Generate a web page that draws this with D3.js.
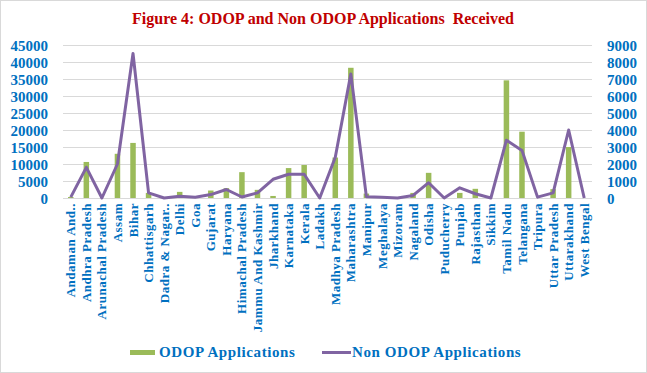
<!DOCTYPE html>
<html>
<head>
<meta charset="utf-8">
<script src="https://cdn.jsdelivr.net/npm/d3@7"></script>
<style>
  body { margin: 0; background: #fff; }
  svg { display: block; }
  text { font-family: "Liberation Serif", "Times New Roman", serif; font-weight: bold; }
</style>
</head>
<body>
<script>
// states as they appear on the x axis
const states = ['Andaman And..', 'Andhra Pradesh', 'Arunachal Pradesh', 'Assam', 'Bihar',
  'Chhattisgarh', 'Dadra & Nagar..', 'Delhi', 'Goa', 'Gujarat', 'Haryana', 'Himachal Pradesh',
  'Jammu And Kashmir', 'Jharkhand', 'Karnataka', 'Kerala', 'Ladakh', 'Madhya Pradesh',
  'Maharashtra', 'Manipur', 'Meghalaya', 'Mizoram', 'Nagaland', 'Odisha', 'Puducherry',
  'Punjab', 'Rajasthan', 'Sikkim', 'Tamil Nadu', 'Telangana', 'Tripura', 'Uttar Pradesh',
  'Uttarakhand', 'West Bengal']

// ODOP applications (left axis)
const odop = [300, 10600, 0, 13000, 16200, 1500, 0, 1800, 0, 2200, 2900, 7600,
  2400, 600, 8800, 9700, 0, 11900, 38300, 1300, 0, 0, 1500, 7400, 0,
  1500, 2700, 0, 34600, 19500, 0, 2600, 15000, 0]

// Non ODOP applications (right axis)
const nonOdop = [50, 1800, 0, 2000, 8500, 300, 0, 100, 50, 200, 500, 60,
  300, 1100, 1400, 1400, 0, 2400, 7300, 80, 50, 0, 150, 900, 0,
  600, 250, 0, 3400, 2800, 50, 300, 4000, 0]

const leftTicks = d3.range(0, 45001, 5000)
const rightTicks = d3.range(0, 9001, 1000)

const W = 647
const H = 373
const plot = { left: 63, right: 592, top: 45, bottom: 198 }
const blue = '#0070c0'
const green = '#9bbb59'
const purple = '#8064a2'

const svg = d3.select('body').append('svg')
  .attr('width', W)
  .attr('height', H)

// outer frame
svg.append('rect')
  .attr('x', 0.5).attr('y', 0.5)
  .attr('width', W - 1).attr('height', H - 1)
  .attr('fill', '#fff')
  .attr('stroke', '#d9d9d9')

svg.append('text')
  .attr('x', 323)
  .attr('y', 24)
  .attr('text-anchor', 'middle')
  .attr('fill', '#c00000')
  .style('font-size', '16px')
  .style('white-space', 'pre')
  .text('Figure 4: ODOP and Non ODOP Applications  Received')

// scales
const x = d3.scaleBand()
  .domain(states)
  .range([plot.left, plot.right])

const yLeft = d3.scaleLinear()
  .domain([0, 45000])
  .range([plot.bottom, plot.top])

const yRight = d3.scaleLinear()
  .domain([0, 9000])
  .range([plot.bottom, plot.top])

// gridlines
svg.append('g')
  .selectAll('line')
  .data(leftTicks)
  .enter()
  .append('line')
  .attr('x1', plot.left)
  .attr('x2', plot.right)
  .attr('y1', d => Math.round(yLeft(d)) + 0.5)
  .attr('y2', d => Math.round(yLeft(d)) + 0.5)
  .attr('stroke', '#d9d9d9')

// left axis
const leftAxis = svg.append('g')
  .attr('transform', `translate(${plot.left - 12},0)`)
  .call(d3.axisLeft(yLeft).tickValues(leftTicks).tickSize(0).tickFormat(d3.format('d')))
leftAxis.select('.domain').remove()
leftAxis.selectAll('text')
  .attr('fill', blue)
  .attr('dy', '0.35em')
  .style('font-size', '15px')
  .style('font-family', '"Liberation Serif", serif')
  .style('font-weight', 'bold')

// right axis
const rightAxis = svg.append('g')
  .attr('transform', `translate(${plot.right + 12},0)`)
  .call(d3.axisRight(yRight).tickValues(rightTicks).tickSize(0).tickFormat(d3.format('d')))
rightAxis.select('.domain').remove()
rightAxis.selectAll('text')
  .attr('fill', blue)
  .attr('dy', '0.35em')
  .style('font-size', '15px')
  .style('font-family', '"Liberation Serif", serif')
  .style('font-weight', 'bold')

// category labels
const bottomAxis = svg.append('g')
  .attr('transform', `translate(0,${plot.bottom})`)
  .call(d3.axisBottom(x).tickSize(0))
bottomAxis.select('.domain').remove()
bottomAxis.selectAll('text')
  .attr('fill', blue)
  .attr('transform', 'rotate(-90)')
  .attr('x', -5)
  .attr('y', 0)
  .attr('dy', '0.35em')
  .attr('text-anchor', 'end')
  .style('font-size', '13px')
  .style('letter-spacing', '0.5px')
  .style('font-family', '"Liberation Serif", serif')
  .style('font-weight', 'bold')

// bars
const barW = 5.5
svg.append('g')
  .selectAll('rect')
  .data(odop)
  .enter()
  .append('rect')
  .attr('x', (d, i) => x(states[i]) + x.bandwidth() / 2 - barW / 2)
  .attr('y', d => yLeft(d))
  .attr('width', barW)
  .attr('height', d => plot.bottom - yLeft(d))
  .attr('fill', green)

// line
const line = d3.line()
  .x((d, i) => x(states[i]) + x.bandwidth() / 2)
  .y(d => yRight(d))

svg.append('path')
  .datum(nonOdop)
  .attr('d', line)
  .attr('fill', 'none')
  .attr('stroke', purple)
  .attr('stroke-width', 3)
  .attr('stroke-linejoin', 'round')

// legend
const legend = svg.append('g')
legend.append('rect')
  .attr('x', 130).attr('y', 350)
  .attr('width', 25).attr('height', 5)
  .attr('fill', green)
legend.append('text')
  .attr('x', 159).attr('y', 357)
  .attr('fill', blue)
  .style('font-size', '15px')
  .style('letter-spacing', '0.6px')
  .text('ODOP Applications')
legend.append('line')
  .attr('x1', 322).attr('x2', 351)
  .attr('y1', 352.5).attr('y2', 352.5)
  .attr('stroke', purple)
  .attr('stroke-width', 3)
legend.append('text')
  .attr('x', 352).attr('y', 357)
  .attr('fill', blue)
  .style('font-size', '15px')
  .style('letter-spacing', '0.6px')
  .text('Non ODOP Applications')
</script>
</body>
</html>
